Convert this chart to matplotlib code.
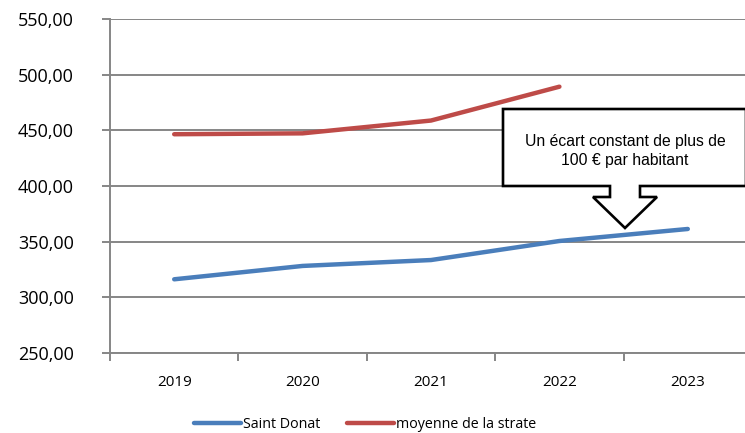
import matplotlib

matplotlib.use("Agg")

import matplotlib.pyplot as plt
from matplotlib.lines import Line2D
from matplotlib.patches import Polygon
from matplotlib.ticker import FuncFormatter

years = ["2019", "2020", "2021", "2022", "2023"]
saint_donat = [316.2, 328.2, 333.5, 350.6, 361.4]
strate = [446.5, 447.3, 458.8, 489.2]
series_names = ["Saint Donat", "moyenne de la strate"]
note = "Un écart constant de plus de\n100 € par habitant"

blue = "#4a7ebb"
red = "#be4b48"
grid = "#868686"

plt.rcParams["font.family"] = ["Open Sans", "DejaVu Sans"]

W, H = 745, 433
fig = plt.figure(figsize=(W / 100, H / 100), dpi=100)
ax = fig.add_axes([110 / W, 80 / H, 642 / W, 334 / H])

x = list(range(len(years)))
ax.plot(x, saint_donat, color=blue, lw=3.2, solid_capstyle="round", zorder=3)
ax.plot(x[:len(strate)], strate, color=red, lw=3.2, solid_capstyle="round", zorder=3)

ax.set_xlim(-0.5, len(years) - 0.5)
ax.set_ylim(250, 550)
ax.set_yticks(range(250, 551, 50))
ax.yaxis.set_major_formatter(FuncFormatter(lambda v, _: f"{v:.2f}".replace(".", ",")))
ax.yaxis.grid(True, color=grid, lw=1.4)
ax.set_axisbelow(True)

ax.set_xticks(x)
ax.set_xticklabels(years)
ax.set_xticks([i + 0.5 for i in range(-1, len(years))], minor=True)
ax.tick_params(axis="x", which="major", length=0, pad=16, labelsize=11)
ax.tick_params(axis="x", which="minor", length=6, width=1.4, color=grid)
ax.tick_params(axis="y", length=6, width=1.4, color=grid, pad=20, labelsize=13)

for side in ["top", "right"]:
    ax.spines[side].set_visible(False)
for side in ["left", "bottom"]:
    ax.spines[side].set_color(grid)
    ax.spines[side].set_linewidth(1.4)

# callout box with arrow
def fp(px, py):
    return (px / W, 1 - py / H)

shape = [fp(503, 109), fp(746, 109), fp(746, 186), fp(640, 186), fp(640, 197),
         fp(657, 197), fp(625, 228), fp(593, 197), fp(610, 197), fp(610, 186),
         fp(503, 186)]
fig.patches.append(Polygon(shape, closed=True, transform=fig.transFigure,
                           facecolor="white", edgecolor="black", lw=1.9, zorder=5))
fig.text(625 / W, 1 - 151 / H, note, ha="center", va="center", fontsize=11.3,
         family=["Liberation Sans", "DejaVu Sans"], linespacing=1.3, zorder=6)

handles = [Line2D([], [], color=c, lw=3.2, solid_capstyle="round") for c in (blue, red)]
fig.legend(handles, series_names, loc="center", bbox_to_anchor=(0.49, 1 - 425 / H),
           ncol=2, frameon=False, fontsize=10.3, handlelength=3.3, handletextpad=0.1,
           columnspacing=1.9)

fig.savefig("out.png", dpi=100)
